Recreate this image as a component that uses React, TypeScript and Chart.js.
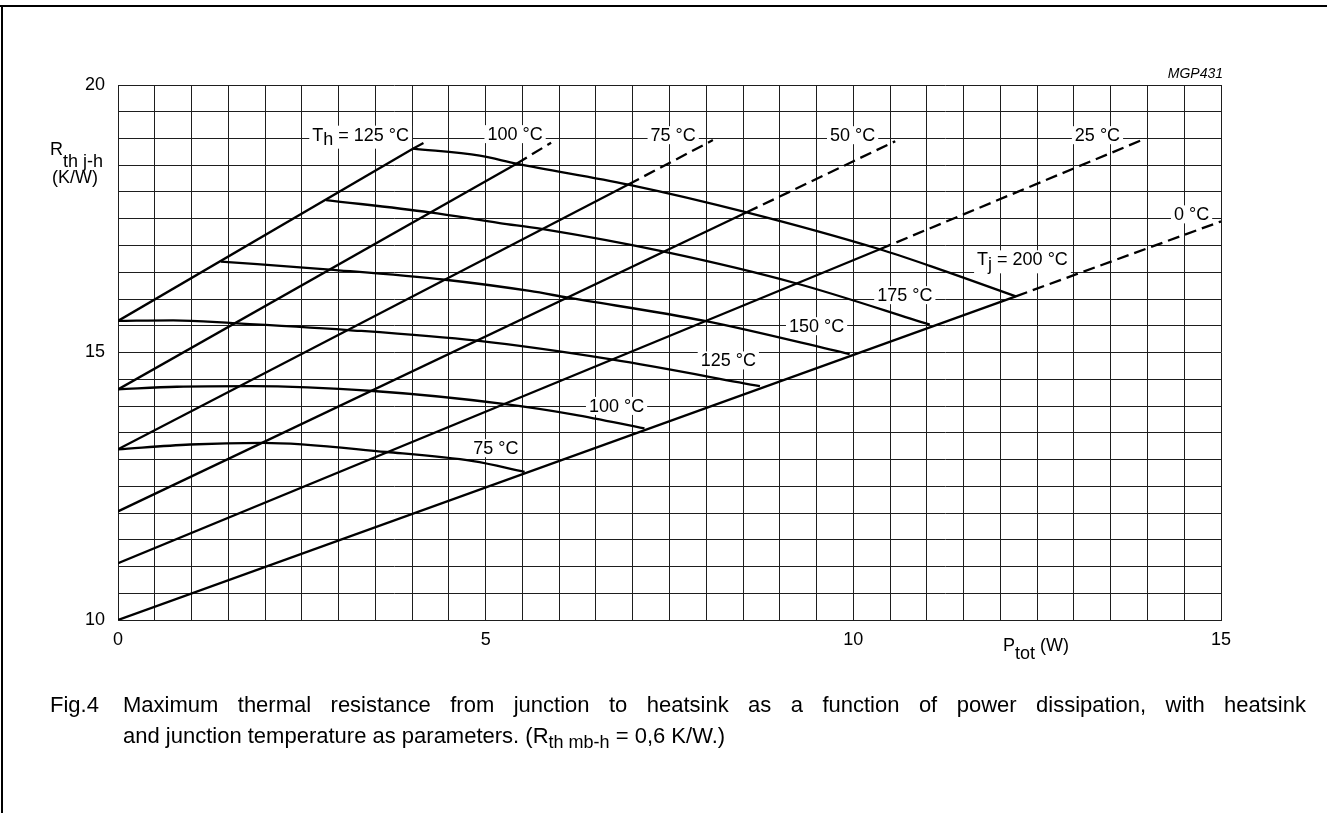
import React, { useEffect, useRef } from 'react';
import { Chart, registerables } from 'chart.js';

Chart.register(...registerables);

// ---------- axis tick labels ----------
const xTickLabels = ['0', '5', '10', '15'];
const yTickLabels = ['10', '15', '20'];

// ---------- heatsink temperature lines (Th), solid part ----------
const th125X = [0, 4.01];
const th125Y = [15.59, 18.81];
const th100X = [0, 5.42];
const th100Y = [14.31, 18.53];
const th75X = [0, 6.94];
const th75Y = [13.19, 18.14];
const th50X = [0, 8.55];
const th50Y = [12.03, 17.62];
const th25X = [0, 10.36];
const th25Y = [11.06, 16.93];
const th0X = [0, 12.21];
const th0Y = [10.0, 16.05];

// ---------- heatsink temperature lines (Th), dashed continuation ----------
const th125DashX = [4.01, 4.2];
const th125DashY = [18.81, 18.95];
const th100DashX = [5.42, 5.89];
const th100DashY = [18.53, 18.92];
const th75DashX = [6.94, 8.09];
const th75DashY = [18.14, 18.97];
const th50DashX = [8.55, 10.57];
const th50DashY = [17.62, 18.95];
const th25DashX = [10.36, 13.94];
const th25DashY = [16.93, 18.98];
const th0DashX = [12.21, 15.0];
const th0DashY = [16.05, 17.45];

// ---------- junction temperature curves (Tj) ----------
const tj200X = [4.01, 4.92, 5.42, 6.94, 8.55, 10.36, 11.04, 12.21];
const tj200Y = [18.81, 18.68, 18.53, 18.14, 17.62, 16.93, 16.62, 16.05];
const tj175X = [2.83, 4.24, 5.19, 5.76, 7.44, 9.23, 11.04];
const tj175Y = [17.85, 17.62, 17.42, 17.31, 16.88, 16.29, 15.52];
const tj150X = [1.4, 2.88, 4.45, 5.6, 6.1, 7.98, 9.95];
const tj150Y = [16.7, 16.55, 16.36, 16.15, 16.03, 15.59, 14.97];
const tj125X = [0, 0.75, 1.56, 3.13, 4.88, 6.71, 8.73];
const tj125Y = [15.59, 15.6, 15.55, 15.42, 15.22, 14.87, 14.37];
const tj100X = [0, 0.8, 1.8, 3.47, 5.24, 6.2, 7.16];
const tj100Y = [14.31, 14.36, 14.37, 14.28, 14.04, 13.84, 13.58];
const tj75X = [0, 0.98, 1.97, 3.65, 4.83, 5.53];
const tj75Y = [13.19, 13.28, 13.31, 13.14, 12.97, 12.77];

// ---------- inline curve labels (text + anchor in data units) ----------
type Part = { t: string; sub?: boolean };
const inlineLabels: { parts: Part[]; x: number; y: number }[] = [
  { parts: [{ t: 'T' }, { t: 'h', sub: true }, { t: ' = 125 °C' }], x: 3.3, y: 19.08 },
  { parts: [{ t: '100 °C' }], x: 5.4, y: 19.09 },
  { parts: [{ t: '75 °C' }], x: 7.55, y: 19.07 },
  { parts: [{ t: '50 °C' }], x: 9.99, y: 19.07 },
  { parts: [{ t: '25 °C' }], x: 13.32, y: 19.07 },
  { parts: [{ t: '0 °C' }], x: 14.6, y: 17.59 },
  { parts: [{ t: 'T' }, { t: 'j', sub: true }, { t: ' = 200 °C' }], x: 12.3, y: 16.75 },
  { parts: [{ t: '175 °C' }], x: 10.7, y: 16.08 },
  { parts: [{ t: '150 °C' }], x: 9.5, y: 15.5 },
  { parts: [{ t: '125 °C' }], x: 8.3, y: 14.86 },
  { parts: [{ t: '100 °C' }], x: 6.78, y: 14.01 },
  { parts: [{ t: '75 °C' }], x: 5.14, y: 13.22 },
];

const FONT = '"Liberation Sans", Arial, Helvetica, sans-serif';
const LABEL_SIZE = 18;
const SUB_DROP = 4.5;

const pts = (xs: number[], ys: number[]) => xs.map((x, i) => ({ x, y: ys[i] }));

const lineDs = (xs: number[], ys: number[], dashed = false, curve = false) => ({
  data: pts(xs, ys),
  borderColor: '#000',
  backgroundColor: '#000',
  borderWidth: 2.3,
  borderDash: dashed ? [12, 6] : [],
  pointRadius: 0,
  fill: false,
  tension: curve ? 0.4 : 0,
  cubicInterpolationMode: curve ? ('monotone' as const) : ('default' as const),
});

function layoutLabel(ctx: CanvasRenderingContext2D, chart: any, lab: { parts: Part[]; x: number; y: number }) {
  ctx.font = `${LABEL_SIZE}px ${FONT}`;
  const widths = lab.parts.map((p) => ctx.measureText(p.t).width);
  const w = widths.reduce((a, b) => a + b, 0);
  const cx = chart.scales.x.getPixelForValue(lab.x);
  const cy = chart.scales.y.getPixelForValue(lab.y);
  const left = cx - w / 2;
  const baseline = cy + 0.358 * LABEL_SIZE;
  const hasSub = lab.parts.some((p) => p.sub);
  return { widths, w, left, baseline, hasSub };
}

const labelPlugin = {
  id: 'inlineLabels',
  beforeDatasetsDraw(chart: any) {
    const ctx: CanvasRenderingContext2D = chart.ctx;
    ctx.save();
    ctx.fillStyle = '#fff';
    for (const lab of inlineLabels) {
      const L = layoutLabel(ctx, chart, lab);
      const top = L.baseline - 15;
      const bottom = L.baseline + (L.hasSub ? 8 : 3);
      ctx.fillRect(L.left - 3, top, L.w + 6, bottom - top);
    }
    ctx.restore();
  },
  afterDatasetsDraw(chart: any) {
    const ctx: CanvasRenderingContext2D = chart.ctx;
    ctx.save();
    ctx.fillStyle = '#000';
    ctx.textBaseline = 'alphabetic';
    ctx.textAlign = 'left';
    for (const lab of inlineLabels) {
      const L = layoutLabel(ctx, chart, lab);
      let x = L.left;
      lab.parts.forEach((p, i) => {
        ctx.fillText(p.t, x, L.baseline + (p.sub ? SUB_DROP : 0));
        x += L.widths[i];
      });
    }
    ctx.restore();
  },
};

const txt: React.CSSProperties = {
  position: 'absolute',
  fontFamily: FONT,
  fontSize: 18,
  lineHeight: '20px',
  color: '#000',
  whiteSpace: 'nowrap',
  margin: 0,
};

export default function App() {
  const canvasRef = useRef<HTMLCanvasElement | null>(null);

  useEffect(() => {
    const canvas = canvasRef.current;
    if (!canvas) return;
    const gridColor = '#1e1e1e';
    const chart = new Chart(canvas, {
      type: 'line',
      data: {
        datasets: [
          lineDs(th125X, th125Y),
          lineDs(th100X, th100Y),
          lineDs(th75X, th75Y),
          lineDs(th50X, th50Y),
          lineDs(th25X, th25Y),
          lineDs(th0X, th0Y),
          lineDs(th125DashX, th125DashY, true),
          lineDs(th100DashX, th100DashY, true),
          lineDs(th75DashX, th75DashY, true),
          lineDs(th50DashX, th50DashY, true),
          lineDs(th25DashX, th25DashY, true),
          lineDs(th0DashX, th0DashY, true),
          lineDs(tj200X, tj200Y, false, true),
          lineDs(tj175X, tj175Y, false, true),
          lineDs(tj150X, tj150Y, false, true),
          lineDs(tj125X, tj125Y, false, true),
          lineDs(tj100X, tj100Y, false, true),
          lineDs(tj75X, tj75Y, false, true),
        ] as any,
      },
      options: {
        animation: false,
        responsive: false,
        devicePixelRatio: 1,
        layout: { padding: { left: 40, right: 106, top: 85, bottom: 163 } },
        plugins: {
          legend: { display: false },
          tooltip: { enabled: false },
        },
        events: [],
        scales: {
          x: {
            type: 'linear',
            min: 0,
            max: 15,
            grid: { color: gridColor, lineWidth: 1, drawTicks: false },
            border: { color: gridColor, width: 1 },
            ticks: {
              stepSize: 0.5,
              maxTicksLimit: 100,
              autoSkip: false,
              maxRotation: 0,
              padding: 9,
              color: '#000',
              font: { family: FONT, size: 18 },
              callback: (v: any) => (xTickLabels.includes(String(v)) ? String(v) : ''),
            },
            afterFit: (s: any) => {
              s.height = 30;
            },
          },
          y: {
            type: 'linear',
            min: 10,
            max: 20,
            grid: { color: gridColor, lineWidth: 1, drawTicks: false },
            border: { color: gridColor, width: 1 },
            ticks: {
              stepSize: 0.5,
              maxTicksLimit: 100,
              autoSkip: false,
              padding: 13,
              color: '#000',
              font: { family: FONT, size: 18 },
              callback: (v: any) => (yTickLabels.includes(String(v)) ? String(v) : ''),
            },
            afterFit: (s: any) => {
              s.width = 78;
            },
          },
        },
      } as any,
      plugins: [labelPlugin],
    });
    return () => chart.destroy();
  }, []);

  return (
    <div style={{ position: 'absolute', left: 0, top: 0, width: 1327, height: 813, background: '#fff', overflow: 'hidden' }}>
      {/* frame */}
      <div style={{ position: 'absolute', left: 0, top: 5, width: 1327, height: 2, background: '#000' }} />
      <div style={{ position: 'absolute', left: 1, top: 5, width: 2, height: 808, background: '#000' }} />

      <canvas ref={canvasRef} width={1327} height={813} style={{ position: 'absolute', left: 0, top: 0, width: 1327, height: 813 }} />

      {/* code */}
      <div style={{ ...txt, fontSize: 14, lineHeight: '16px', fontStyle: 'italic', right: 104, top: 65 }}>MGP431</div>

      {/* y-axis title */}
      <div style={{ ...txt, left: 50, top: 139 }}>
        R<span style={{ position: 'relative', top: 12 }}>th j-h</span>
      </div>
      <div style={{ ...txt, left: 52, top: 167 }}>(K/W)</div>

      {/* x-axis title */}
      <div style={{ ...txt, left: 1003, top: 635 }}>
        P<span style={{ position: 'relative', top: 8 }}>tot</span> (W)
      </div>

      {/* caption */}
      <div style={{ ...txt, fontSize: 22, lineHeight: '31px', left: 50, top: 689 }}>Fig.4</div>
      <div style={{ ...txt, fontSize: 22, lineHeight: '31px', left: 123, top: 689, width: 1183, textAlign: 'justify', textAlignLast: 'justify' as any }}>
        Maximum thermal resistance from junction to heatsink as a function of power dissipation, with heatsink
      </div>
      <div style={{ ...txt, fontSize: 22, lineHeight: '31px', left: 123, top: 720 }}>
        and junction temperature as parameters. (R
        <span style={{ position: 'relative', top: 5, fontSize: 18 }}>th mb-h</span> = 0,6 K/W.)
      </div>
    </div>
  );
}
